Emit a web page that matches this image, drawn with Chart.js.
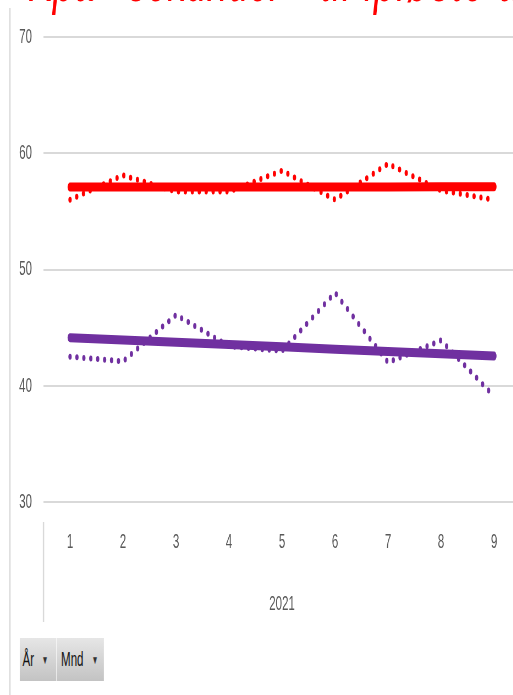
<!DOCTYPE html>
<html>
<head>
<meta charset="utf-8">
<script src="https://cdn.jsdelivr.net/npm/chart.js@4"></script>
<style>
  html, body { margin: 0; padding: 0; background: #fff; overflow: hidden; width: 513px; height: 695px; }
  #frame { position: absolute; left: 0; top: 0; width: 960px; height: 695px; transform: scaleX(0.55); transform-origin: 0 0; }
  #frame canvas { display: block; }
  .btn { position: absolute; top: 638px; height: 43px; background: linear-gradient(#e6e6e6, #c3c3c3);
         font: 21px 'Liberation Sans', Arial, sans-serif; color: #111; }
  .btn span { position: absolute; top: 9px; }
  .btn .arr { font-size: 12px; top: 15px; color: #333; }
</style>
</head>
<body>
<div id="frame">
  <canvas id="c" width="960" height="695"></canvas>
  <div class="btn" style="left:36px;width:66px;"><span style="left:5px;">År</span><span class="arr" style="left:40px;">▼</span></div>
  <div class="btn" style="left:103px;width:86px;"><span style="left:8px;">Mnd</span><span class="arr" style="left:64px;">▼</span></div>
</div>
<script>
// Monthly values for 2021
const titleStart = 'Kpa - sekunder';
const titleEnd = 'til ipløste a';
const yearLabel = '2021';
const months = ['1', '2', '3', '4', '5', '6', '7', '8', '9'];
const redValues = [56.0, 58.1, 56.7, 56.7, 58.5, 56.0, 59.1, 56.8, 56.0];
const purpleValues = [42.5, 42.1, 46.1, 43.4, 43.0, 48.0, 42.0, 43.9, 39.1];
const yTicks = [30, 40, 50, 60, 70];

// Least-squares linear trend of a series
function linearTrend(values) {
  const n = values.length;
  const mx = (n - 1) / 2;
  const my = values.reduce((a, b) => a + b, 0) / n;
  let sxy = 0, sxx = 0;
  values.forEach((v, i) => { sxy += (i - mx) * (v - my); sxx += (i - mx) * (i - mx); });
  const slope = sxy / sxx;
  return values.map((_, i) => my + slope * (i - mx));
}

const FONT = "'Liberation Sans', Arial, sans-serif";
const GRID = '#d9d9d9';
const TEXT = '#595959';

const decor = {
  id: 'decor',
  afterDraw(chart) {
    const { ctx, chartArea, scales: { x } } = chart;
    ctx.save();
    // outer frame edge
    ctx.strokeStyle = GRID;
    ctx.lineWidth = 2.5;
    ctx.beginPath(); ctx.moveTo(18, 8); ctx.lineTo(18, 695); ctx.stroke();
    // category group separator
    ctx.beginPath(); ctx.moveTo(chartArea.left, 522); ctx.lineTo(chartArea.left, 622); ctx.stroke();
    // title (runs off the top of the frame)
    ctx.fillStyle = '#ff0000';
    ctx.font = 'italic 68px ' + FONT;
    ctx.textBaseline = 'alphabetic';
    ctx.textAlign = 'left';
    ctx.fillText(titleStart, 51, 1);
    ctx.letterSpacing = '3px';
    ctx.fillText(titleEnd, 582, 1);
    ctx.letterSpacing = '0px';
    // year group label
    ctx.fillStyle = TEXT;
    ctx.font = '21px ' + FONT;
    ctx.textAlign = 'center';
    ctx.textBaseline = 'middle';
    const cx = (x.getPixelForValue(0) + x.getPixelForValue(months.length - 1)) / 2;
    ctx.fillText(yearLabel, cx, 604);
    ctx.restore();
  }
};

new Chart(document.getElementById('c'), {
  type: 'line',
  data: {
    labels: months,
    datasets: [
      { label: 'Trend 1', data: linearTrend(redValues), borderColor: '#ff0000', borderWidth: 9,
        borderCapStyle: 'round', pointRadius: 0, tension: 0 },
      { label: 'Trend 2', data: linearTrend(purpleValues), borderColor: '#7030a0', borderWidth: 9,
        borderCapStyle: 'round', pointRadius: 0, tension: 0 },
      { label: 'Serie 1', data: redValues, borderColor: '#ff0000', borderWidth: 6, borderDash: [0, 12.6],
        borderCapStyle: 'round', pointRadius: 0, tension: 0 },
      { label: 'Serie 2', data: purpleValues, borderColor: '#7030a0', borderWidth: 6, borderDash: [0, 12.6],
        borderCapStyle: 'round', pointRadius: 0, tension: 0 }
    ]
  },
  options: {
    responsive: false,
    animation: false,
    layout: { padding: { top: 37, right: 13.5, left: 0, bottom: 0 } },
    plugins: { legend: { display: false }, tooltip: { enabled: false }, title: { display: false } },
    scales: {
      x: {
        offset: true,
        grid: { display: false, drawTicks: false },
        border: { display: false },
        ticks: { color: TEXT, font: { family: FONT, size: 21 }, padding: 28, maxRotation: 0 },
        afterFit(s) { s.height = 193; }
      },
      y: {
        min: yTicks[0], max: yTicks[yTicks.length - 1],
        afterBuildTicks(s) { s.ticks = yTicks.map(v => ({ value: v })); },
        grid: { color: GRID, lineWidth: 2, drawTicks: false },
        border: { display: false },
        ticks: { color: TEXT, font: { family: FONT, size: 21 }, padding: 21 },
        afterFit(s) { s.width = 79.1; }
      }
    }
  },
  plugins: [decor]
});
</script>
</body>
</html>
